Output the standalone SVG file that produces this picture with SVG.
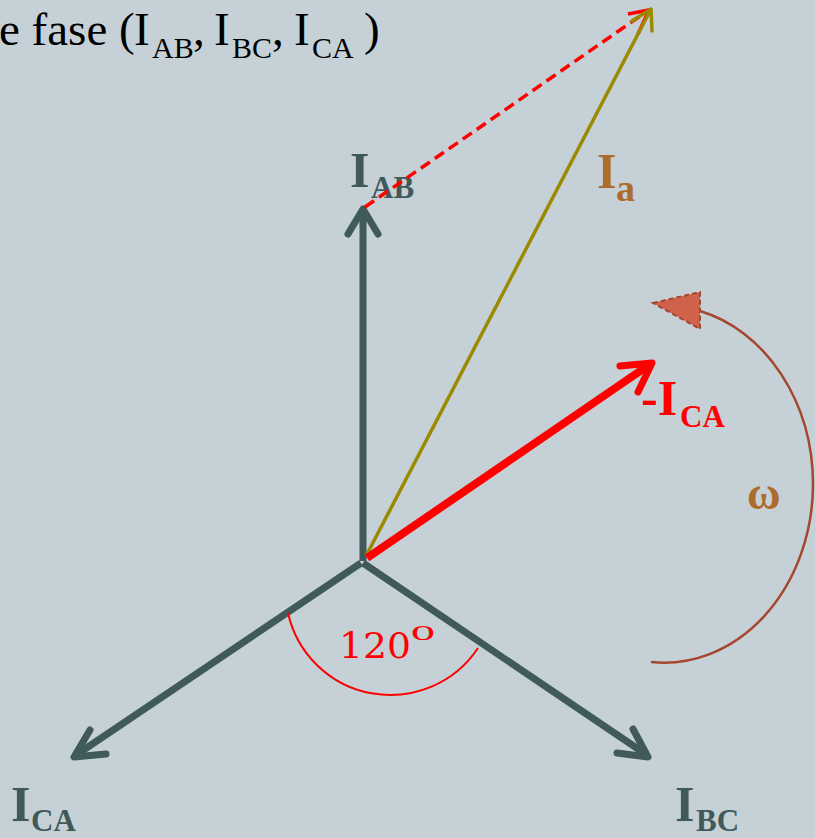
<svg xmlns="http://www.w3.org/2000/svg" width="815" height="838" viewBox="0 0 815 838">
<style>
.bg{fill:#c6d1d7}
.slate{stroke:#405a5b;stroke-width:7;fill:none;stroke-linecap:round;stroke-linejoin:round}
.slate-line{stroke:#405a5b;stroke-width:7;fill:none;stroke-linecap:butt}
.lbl{font-family:"Liberation Serif","Times New Roman",serif;font-weight:bold}
.lbl-slate{fill:#405a5b}
.title{font-family:"Liberation Serif","Times New Roman",serif;fill:#000000;font-size:47px}
.sub{font-size:30px}
.lsub{font-size:31px}
</style>
<rect class="bg" x="0" y="0" width="815" height="838"/>

<g id="title">
<text class="title" y="45"><tspan x="-1">e fase (</tspan><tspan x="134">I</tspan><tspan class="sub" x="152" y="58">AB</tspan><tspan x="193" y="45">,</tspan><tspan x="214">I</tspan><tspan class="sub" x="232" y="58">BC</tspan><tspan x="272" y="45">,</tspan><tspan x="294">I</tspan><tspan class="sub" x="312" y="58">CA</tspan><tspan x="364" y="45">)</tspan></text>
</g>

<g id="I_AB">
<path class="slate-line" d="M363,561 L363,214"/>
<path class="slate" d="M348,234 L363,209 L378,234"/>
<text class="lbl lbl-slate" font-size="50"><tspan x="350" y="187">I</tspan><tspan class="lsub" x="371" y="198">AB</tspan></text>
</g>

<g id="I_CA">
<path class="slate-line" d="M361,563 L79,753"/>
<path class="slate" d="M90,730 L74,757 L106,754"/>
<text class="lbl lbl-slate" font-size="50"><tspan x="11" y="821">I</tspan><tspan class="lsub" x="31" y="831">CA</tspan></text>
</g>

<g id="I_BC">
<path class="slate-line" d="M363,563 L644,753"/>
<path class="slate" d="M633,729 L648,757 L617,753"/>
<text class="lbl lbl-slate" font-size="50"><tspan x="675" y="821">I</tspan><tspan class="lsub" x="696" y="831">BC</tspan></text>
</g>

<g id="connectors">
<g id="dashed_ICA_shift">
<path d="M365,207 L646,12" stroke="#ff0000" stroke-width="3.5" fill="none" stroke-dasharray="11 6"/>
<path d="M628,14 L649,10 L638,34" stroke="#ff0000" stroke-width="3.5" fill="none" stroke-linejoin="round"/>
</g>
<g id="I_a_vector">
<path d="M366,556 L650,11" stroke="#9b8a00" stroke-width="3.5" fill="none"/>
<path d="M632,21 L651,9 L652,31" stroke="#9b8a00" stroke-width="3.5" fill="none" stroke-linecap="round" stroke-linejoin="round"/>
</g>
<g id="minus_ICA_vector">
<path d="M367,558 L646,367" stroke="#ff0000" stroke-width="8" fill="none"/>
<path d="M620,366 L652,363 L638,392" stroke="#ff0000" stroke-width="7" fill="none" stroke-linecap="round" stroke-linejoin="round"/>
</g>
<g id="angle_arc">
<path d="M288,613 A105,105 0 0 0 478,648" stroke="#ff0000" stroke-width="2" fill="none"/>
</g>
<g id="omega_arc">
<path d="M651,662 A149,179 0 0 0 813,485 A149,179 0 0 0 700,311" stroke="#a5472f" stroke-width="2.5" fill="none"/>
<polygon points="653,303 700,292 700,329" fill="#d0614a" stroke="#a5472f" stroke-width="2" stroke-dasharray="5 3"/>
</g>
</g>

<g id="I_a_label">
<text class="lbl" fill="#ab6c2c" font-size="50"><tspan x="597" y="188">I</tspan><tspan x="616" y="201" font-size="38">a</tspan></text>
</g>

<g id="minus_ICA_label">
<text class="lbl" fill="#ff0000" font-size="50"><tspan x="641" y="415">-I</tspan><tspan class="lsub" x="680" y="427">CA</tspan></text>
</g>

<g id="omega_label">
<text class="lbl" fill="#ab6c2c" font-size="46" x="747" y="509">ω</text>
</g>

<g id="angle_label">
<text font-family="'DejaVu Serif',serif" fill="#ff0000"><tspan x="339" y="658" font-size="36" textLength="72" lengthAdjust="spacingAndGlyphs">120</tspan><tspan x="410" y="640" font-size="18" textLength="26" lengthAdjust="spacingAndGlyphs">0</tspan></text>
</g>
</svg>
